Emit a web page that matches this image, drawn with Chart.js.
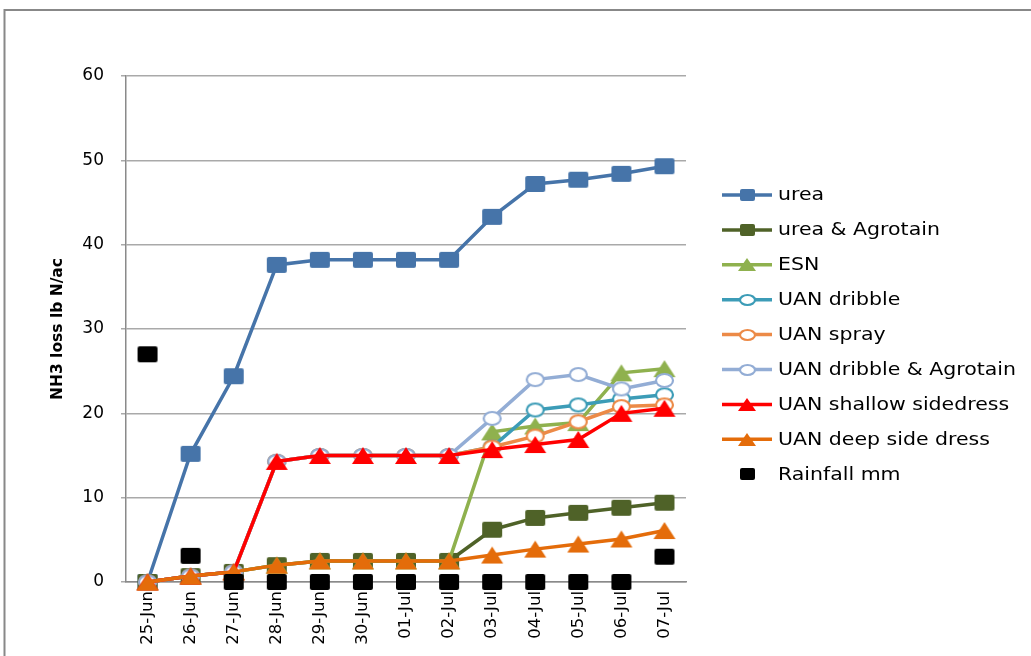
<!DOCTYPE html>
<html>
<head>
<meta charset="utf-8">
<script src="https://cdn.jsdelivr.net/npm/chart.js@4/dist/chart.umd.min.js"></script>
<style>
  html, body { margin: 0; padding: 0; background: #fff; }
  #wrap { position: relative; width: 1031px; height: 656px; }
</style>
</head>
<body>
<div id="wrap"><canvas id="c"></canvas></div>
<script>
const labels = ['25-Jun','26-Jun','27-Jun','28-Jun','29-Jun','30-Jun','01-Jul','02-Jul','03-Jul','04-Jul','05-Jul','06-Jul','07-Jul'];
const urea              = [0, 15.2, 24.4, 37.6, 38.2, 38.2, 38.2, 38.2, 43.3, 47.2, 47.7, 48.4, 49.3];
const ureaAgrotain      = [0, 0.7, 1.2, 2.0, 2.5, 2.5, 2.5, 2.5, 6.2, 7.6, 8.2, 8.8, 9.4];
const esn               = [0, 0.7, 1.2, 2.0, 2.5, 2.5, 2.5, 2.5, 17.8, 18.5, 18.9, 24.8, 25.3];
const uanDribble        = [0, 0.7, 1.2, 14.3, 15.0, 15.0, 15.0, 15.0, 16.0, 20.4, 21.0, 21.7, 22.2];
const uanSpray          = [0, 0.7, 1.2, 14.3, 15.0, 15.0, 15.0, 15.0, 16.0, 17.3, 19.0, 20.8, 21.0];
const uanDribbleAgro    = [0, 0.7, 1.2, 14.3, 15.0, 15.0, 15.0, 15.0, 19.4, 24.0, 24.6, 22.9, 23.9];
const uanShallow        = [0, 0.7, 1.2, 14.3, 15.0, 15.0, 15.0, 15.0, 15.7, 16.3, 16.9, 20.0, 20.6];
const uanDeep           = [0, 0.7, 1.2, 2.0, 2.5, 2.5, 2.5, 2.5, 3.2, 3.9, 4.5, 5.1, 6.1];
const rainfall          = [27.0, 3.1, 0, 0, 0, 0, 0, 0, 0, 0, 0, 0, 3.0];
const yTicks = [0, 10, 20, 30, 40, 50, 60];

const seriesNames = ['urea','urea & Agrotain','ESN','UAN dribble','UAN spray','UAN dribble & Agrotain','UAN shallow sidedress','UAN deep side dress','Rainfall mm'];
const seriesData = [urea, ureaAgrotain, esn, uanDribble, uanSpray, uanDribbleAgro, uanShallow, uanDeep, rainfall];
const lineColors = ['#4674A9','#4F6228','#8FB14E','#3C9CB7','#EC8A47','#93ADD5','#FF0000','#E46C0A', null];
const shapes     = ['rect','rect','tri','circ','circ','circ','tri','tri','rect'];
const fillColors = ['#4674A9','#4F6228','#8FB14E','#ffffff','#ffffff','#ffffff','#FF0000','#E46C0A','#000000'];

function makeMarker(shape, w, h, fill, stroke) {
  const pad = 3;
  const c = document.createElement('canvas');
  c.width = w + pad * 2; c.height = h + pad * 2;
  const g = c.getContext('2d');
  g.fillStyle = fill; g.strokeStyle = stroke;
  if (shape === 'rect') {
    const r = 2;
    g.beginPath();
    g.roundRect ? g.roundRect(pad, pad, w, h, r) : g.rect(pad, pad, w, h);
    g.fill();
  } else if (shape === 'tri') {
    g.beginPath();
    g.moveTo(pad + w / 2, pad);
    g.lineTo(pad + w, pad + h);
    g.lineTo(pad, pad + h);
    g.closePath();
    g.fill();
  } else {
    g.lineWidth = 2.2;
    g.beginPath();
    g.ellipse(pad + w / 2, pad + h / 2, w / 2 - 1, h / 2 - 1, 0, 0, Math.PI * 2);
    g.fill();
    g.stroke();
  }
  return c;
}

const sizes = { rect: [20, 16], tri: [22, 17], circ: [19, 15] };
const legendSizes = { rect: [15, 12], tri: [18, 13], circ: [17, 12] };

const markers = [], legendMarkers = [];
for (let i = 0; i < 9; i++) {
  const s = shapes[i];
  const stroke = lineColors[i] || fillColors[i];
  markers.push(makeMarker(s, sizes[s][0], sizes[s][1], fillColors[i], stroke));
  legendMarkers.push(makeMarker(s, legendSizes[s][0], legendSizes[s][1], fillColors[i], stroke));
}

const datasets = seriesData.map((d, i) => ({
  label: seriesNames[i],
  data: d,
  borderColor: lineColors[i] || '#000',
  backgroundColor: fillColors[i],
  borderWidth: 3.5,
  showLine: lineColors[i] !== null,
  pointStyle: markers[i],
  pointRadius: 10,
  pointHoverRadius: 10,
  tension: 0,
  clip: false,
  order: 8 - i
}));

const PLOT = { left: 126, right: 686, top: 76, bottom: 582 };
const W = 1031, H = 656;
const padLeft = 45, padBottom = 0;

const framePlugin = {
  id: 'frame',
  afterDraw(chart) {
    const ctx = chart.ctx;
    ctx.save();
    ctx.strokeStyle = '#888888';
    ctx.lineWidth = 2;
    ctx.beginPath();
    ctx.moveTo(4.5, H);
    ctx.lineTo(4.5, 10);
    ctx.lineTo(W, 10);
    ctx.stroke();
    ctx.restore();
  }
};

const legendPlugin = {
  id: 'customLegend',
  afterDraw(chart) {
    const ctx = chart.ctx;
    ctx.save();
    ctx.font = '17px "DejaVu Sans"';
    ctx.fillStyle = '#000';
    ctx.textBaseline = 'middle';
    ctx.textAlign = 'left';
    const longest = ctx.measureText('UAN dribble & Agrotain').width;
    const sx = 238 / longest;
    const x0 = 722, x1 = 772, mx = 747, tx = 778;
    for (let i = 0; i < 9; i++) {
      const y = 195 + i * 34.9;
      if (lineColors[i]) {
        ctx.strokeStyle = lineColors[i];
        ctx.lineWidth = 3.5;
        ctx.beginPath();
        ctx.moveTo(x0, y); ctx.lineTo(x1, y);
        ctx.stroke();
      }
      const m = legendMarkers[i];
      ctx.drawImage(m, Math.round(mx - m.width / 2), Math.round(y - m.height / 2));
      ctx.save();
      ctx.translate(tx, y + 1);
      ctx.scale(sx, 1);
      ctx.fillText(seriesNames[i], 0, 0);
      ctx.restore();
    }
    ctx.restore();
  }
};

new Chart(document.getElementById('c'), {
  type: 'line',
  data: { labels, datasets },
  options: {
    responsive: true,
    maintainAspectRatio: false,
    animation: false,
    events: [],
    layout: {
      padding: { left: padLeft, top: PLOT.top, right: W - PLOT.right, bottom: padBottom }
    },
    plugins: {
      legend: { display: false },
      tooltip: { enabled: false }
    },
    scales: {
      x: {
        offset: true,
        grid: { display: false, drawTicks: false },
        border: { display: true, color: '#8a8a8a', width: 1.5 },
        ticks: {
          color: '#000',
          font: { family: 'DejaVu Sans', size: 16.5 },
          maxRotation: 90, minRotation: 90,
          padding: 9,
          autoSkip: false
        },
        afterFit(scale) { scale.height = H - PLOT.bottom - padBottom; }
      },
      y: {
        min: 0, max: 60,
        afterBuildTicks(scale) { scale.ticks = yTicks.map(v => ({ value: v })); },
        grid: { color: '#a9a9a9', lineWidth: 1.5, tickLength: 5, drawTicks: true },
        border: { display: true, color: '#8a8a8a', width: 1.5 },
        ticks: {
          color: '#000',
          font: { family: 'DejaVu Sans', size: 17 },
          padding: 17
        },
        title: {
          display: true,
          text: 'NH3 loss lb N/ac',
          color: '#000',
          font: { family: 'DejaVu Sans', size: 15.5, weight: 'bold' },
          padding: { top: 4, bottom: 4 }
        },
        afterFit(scale) { scale.width = PLOT.left - padLeft; }
      }
    }
  },
  plugins: [framePlugin, legendPlugin]
});
</script>
</body>
</html>
